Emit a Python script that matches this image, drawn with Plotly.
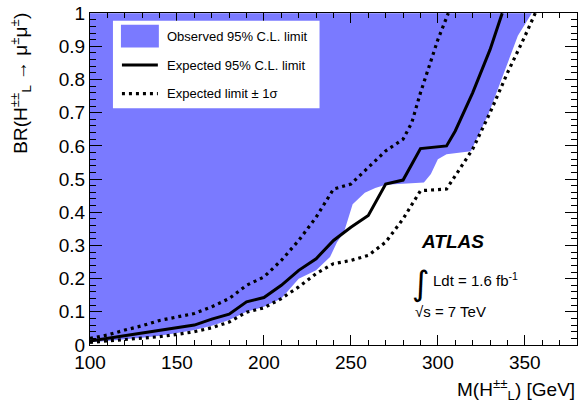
import plotly.graph_objects as go

# ---- data ----
exp_mass = [100, 110, 120, 130, 140, 150, 160, 170, 180, 190, 200, 210, 220, 230, 240, 250, 260, 270, 280, 290, 300, 305, 310, 320, 330, 337]
exp_br = [0.012, 0.02, 0.027, 0.035, 0.044, 0.052, 0.06, 0.078, 0.093, 0.13, 0.143, 0.18, 0.225, 0.26, 0.315, 0.355, 0.39, 0.485, 0.497, 0.592, 0.596, 0.60, 0.645, 0.76, 0.89, 1.0]

up_mass = [100, 110, 120, 130, 140, 150, 160, 170, 180, 190, 200, 210, 220, 230, 240, 250, 260, 270, 280, 285, 290, 300, 306]
up_br = [0.02, 0.03, 0.045, 0.058, 0.074, 0.085, 0.095, 0.115, 0.14, 0.18, 0.205, 0.255, 0.315, 0.385, 0.47, 0.485, 0.535, 0.585, 0.62, 0.67, 0.76, 0.92, 1.0]

lo_mass = [100, 110, 120, 130, 140, 150, 160, 170, 180, 190, 200, 210, 220, 230, 240, 250, 260, 270, 280, 290, 305, 310, 320, 330, 340, 350, 356]
lo_br = [0.008, 0.012, 0.016, 0.02, 0.025, 0.032, 0.04, 0.052, 0.069, 0.099, 0.112, 0.14, 0.175, 0.215, 0.245, 0.255, 0.27, 0.31, 0.38, 0.465, 0.47, 0.51, 0.59, 0.70, 0.82, 0.93, 1.0]

obs_mass = [100, 110, 120, 130, 140, 150, 160, 170, 180, 190, 200, 210, 220, 230, 238, 242, 246, 249, 251, 258, 264, 270, 292, 296, 300, 305, 319, 329, 339, 346, 354]
obs_br = [0.008, 0.012, 0.017, 0.022, 0.028, 0.036, 0.045, 0.058, 0.075, 0.1, 0.115, 0.14, 0.2, 0.225, 0.265, 0.31, 0.34, 0.39, 0.424, 0.459, 0.473, 0.483, 0.49, 0.515, 0.56, 0.575, 0.584, 0.695, 0.834, 0.932, 1.0]

x_ticks = [100, 150, 200, 250, 300, 350]
y_ticks = [0, 0.1, 0.2, 0.3, 0.4, 0.5, 0.6, 0.7, 0.8, 0.9, 1]
y_ticklabels = ["0", "0.1", "0.2", "0.3", "0.4", "0.5", "0.6", "0.7", "0.8", "0.9", "1"]

legend_labels = ["Observed 95% C.L. limit", "Expected 95% C.L. limit", "Expected limit \u00b1 1\u03c3"]

BLUE = "rgb(122,122,255)"
FONT = "Liberation Sans, Arial, Helvetica, sans-serif"

W, H = 581, 412
L, R, T, B = 90, 3, 7, 67
PW, PH = W - L - R, H - T - B


def px(x):
    return (x - L) / PW


def py(y):
    return 1 - (y - T) / PH


fig = go.Figure()

# observed excluded region (filled to the top of the frame)
fig.add_trace(go.Scatter(
    x=obs_mass + [obs_mass[0]], y=obs_br + [obs_br[-1]],
    fill="toself", fillcolor=BLUE, mode="none", showlegend=False,
    hoverinfo="skip"))

fig.add_trace(go.Scatter(x=up_mass, y=up_br, mode="lines",
                         line=dict(color="black", width=3.2, dash="3px,4px"),
                         showlegend=False))
fig.add_trace(go.Scatter(x=lo_mass, y=lo_br, mode="lines",
                         line=dict(color="black", width=3.2, dash="3px,4px"),
                         showlegend=False))
fig.add_trace(go.Scatter(x=exp_mass, y=exp_br, mode="lines",
                         line=dict(color="black", width=3),
                         showlegend=False))

# ---- manual legend ----
shapes = [
    dict(type="rect", xref="paper", yref="paper", x0=px(113), x1=px(320),
         y0=py(104), y1=py(15), fillcolor="white", line=dict(width=0), layer="above"),
    dict(type="rect", xref="paper", yref="paper", x0=px(121), x1=px(159),
         y0=py(42), y1=py(19), fillcolor=BLUE, line=dict(width=0), layer="above"),
    dict(type="line", xref="paper", yref="paper", x0=px(122), x1=px(158),
         y0=py(60), y1=py(60), line=dict(color="black", width=3), layer="above"),
    dict(type="line", xref="paper", yref="paper", x0=px(122), x1=px(158),
         y0=py(89), y1=py(89), line=dict(color="black", width=3.2, dash="3px,4px"), layer="above"),
]

annotations = []
for lab, yy in zip(legend_labels, [31, 60, 89]):
    annotations.append(dict(text=lab, xref="paper", yref="paper", x=px(165), y=py(yy),
                            xanchor="left", yanchor="middle", showarrow=False,
                            font=dict(family=FONT, size=13, color="black")))

annotations += [
    dict(text="<b><i>ATLAS</i></b>", xref="paper", yref="paper", x=px(420), y=py(240),
         xanchor="left", yanchor="middle", showarrow=False,
         font=dict(family=FONT, size=19, color="black")),
    dict(text="\u222b", xref="paper", yref="paper", x=px(411), y=py(282),
         xanchor="left", yanchor="middle", showarrow=False,
         font=dict(family="DejaVu Sans, sans-serif", size=34, color="black")),
    dict(text="Ldt = 1.6 fb<sup>-1</sup>", xref="paper", yref="paper", x=px(432), y=py(278),
         xanchor="left", yanchor="middle", showarrow=False,
         font=dict(family=FONT, size=15, color="black")),
    dict(text="\u221as = 7 TeV", xref="paper", yref="paper", x=px(414), y=py(311),
         xanchor="left", yanchor="middle", showarrow=False,
         font=dict(family=FONT, size=15, color="black")),
    dict(text="M(H<sup>\u00b1\u00b1</sup><sub>L</sub>) [GeV]", xref="paper", yref="paper",
         x=1.0, y=py(390), xanchor="right", yanchor="middle", showarrow=False,
         font=dict(family=FONT, size=19, color="black")),
    dict(text="BR(H<sup>\u00b1\u00b1</sup><sub>L</sub> \u2192 \u03bc<sup>\u00b1</sup>\u03bc<sup>\u00b1</sup>)",
         xref="paper", yref="paper", x=px(20), y=py(5), textangle=-90,
         xanchor="center", yanchor="top", showarrow=False,
         font=dict(family=FONT, size=19, color="black")),
]

axis_common = dict(showgrid=False, zeroline=False, showline=True, linecolor="black",
                   linewidth=1, mirror="allticks", ticks="inside", tickcolor="black",
                   ticklabeloverflow="allow",
                   tickfont=dict(family=FONT, size=19, color="black"))

fig.update_layout(
    width=W, height=H,
    margin=dict(l=L, r=R, t=T, b=B),
    paper_bgcolor="white", plot_bgcolor="white",
    showlegend=False,
    shapes=shapes, annotations=annotations,
    xaxis=dict(range=[100, 380], tickvals=x_ticks, ticklen=10,
               minor=dict(ticks="inside", dtick=10, tick0=100, ticklen=5, tickcolor="black"),
               **axis_common),
    yaxis=dict(range=[0, 1.0005], tickvals=y_ticks, ticktext=y_ticklabels, ticklen=12,
               minor=dict(ticks="inside", dtick=0.02, tick0=0, ticklen=6, tickcolor="black"),
               **axis_common),
)

fig.write_html("out.html")
